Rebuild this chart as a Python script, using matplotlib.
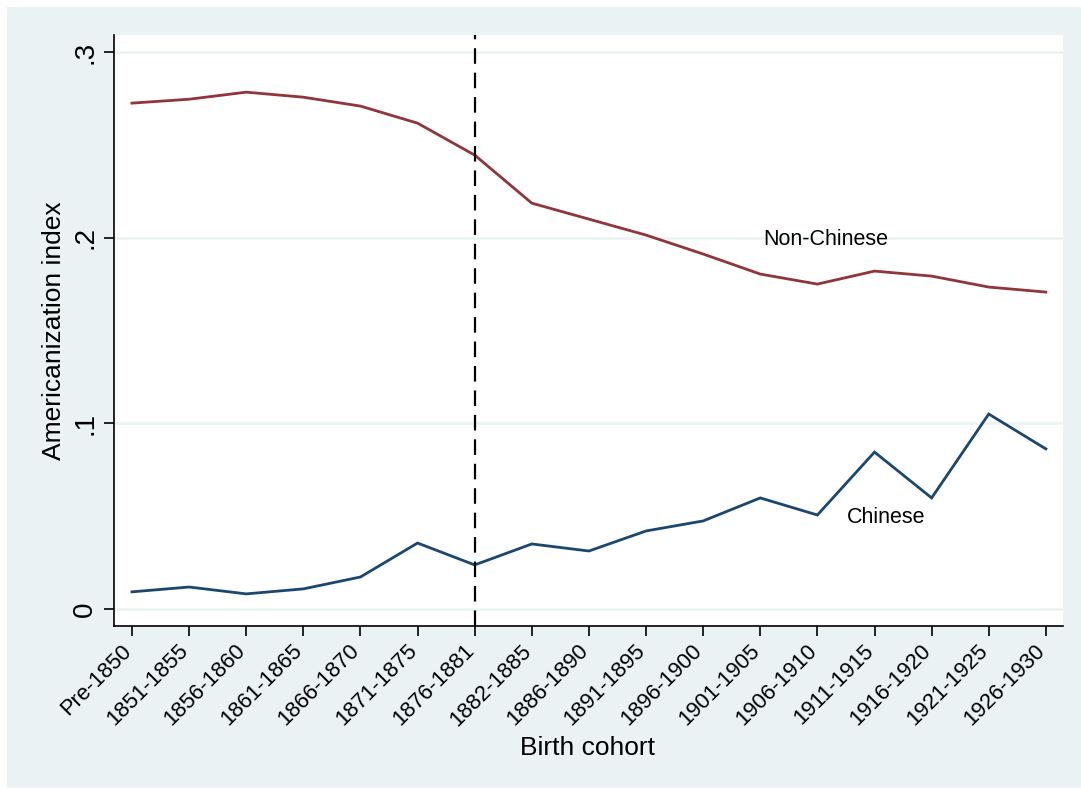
import matplotlib
matplotlib.use("Agg")
import matplotlib.pyplot as plt
from matplotlib.patches import Rectangle

cohorts = ["Pre-1850", "1851-1855", "1856-1860", "1861-1865", "1866-1870",
           "1871-1875", "1876-1881", "1882-1885", "1886-1890", "1891-1895",
           "1896-1900", "1901-1905", "1906-1910", "1911-1915", "1916-1920",
           "1921-1925", "1926-1930"]
non_chinese = [0.2725, 0.2746, 0.2784, 0.2757, 0.2709, 0.2617, 0.2445, 0.2186,
               0.2100, 0.2014, 0.1912, 0.1804, 0.1750, 0.1820, 0.1793, 0.1734,
               0.1707]
chinese = [0.0092, 0.0118, 0.0081, 0.0108, 0.0172, 0.0355, 0.0237, 0.0350,
           0.0312, 0.0420, 0.0474, 0.0598, 0.0506, 0.0845, 0.0598, 0.1050,
           0.0862]
yticks = [0, 0.1, 0.2, 0.3]
ytick_labels = ["0", ".1", ".2", ".3"]
break_cohort = "1876-1881"

plt.rcParams["font.family"] = ["Liberation Sans", "DejaVu Sans"]

W, H = 1081, 789
fig = plt.figure(figsize=(W / 100, H / 100), dpi=100, facecolor="white")
bg = "#EAF2F3"
fig.patches.append(Rectangle((7 / W, 1 / H), 1 - 7 / W, 1 - 8 / H,
                             transform=fig.transFigure, facecolor=bg,
                             edgecolor="none", zorder=-10))

ax_l, ax_r, ax_t, ax_b = 114, 1063, 35, 626
ax = fig.add_axes([ax_l / W, 1 - ax_b / H, (ax_r - ax_l) / W, (ax_b - ax_t) / H])
ax.set_facecolor("white")

x = list(range(len(cohorts)))
ax.plot(x, non_chinese, color="#90353B", lw=2.0, solid_joinstyle="miter", zorder=3)
ax.plot(x, chinese, color="#1A476F", lw=2.0, solid_joinstyle="miter", zorder=3)

bx = cohorts.index(break_cohort)
ax.axvline(bx, color="black", lw=1.6, ls=(0, (7, 4)), zorder=4)

ax.set_xlim(-0.315, len(cohorts) - 1 + 0.3)
ax.set_ylim(-0.0092, 0.3092)

ax.set_yticks(yticks)
ax.set_yticklabels(ytick_labels, rotation=90, va="center", fontsize=20)
ax.set_xticks(x)
ax.set_xticklabels(cohorts, rotation=45, ha="right", va="baseline",
                   rotation_mode="anchor", fontsize=15.8)

ax.grid(axis="y", color=bg, lw=1.8, zorder=0)
ax.set_axisbelow(True)
for s in ["top", "right"]:
    ax.spines[s].set_visible(False)
for s in ["left", "bottom"]:
    ax.spines[s].set_linewidth(1.2)
    ax.spines[s].set_color("black")
ax.tick_params(axis="both", length=7.5, width=1.2, color="black")
ax.tick_params(axis="y", pad=4)
ax.tick_params(axis="x", pad=11)

ax.text(12.14, 0.1992, "Non-Chinese", fontsize=15.5, ha="center", va="center")
ax.text(13.2, 0.0495, "Chinese", fontsize=15.5, ha="center", va="center")

ax.set_ylabel("Americanization index", fontsize=19)
ax.set_xlabel("Birth cohort", fontsize=19)
axw, axh = ax_r - ax_l, ax_b - ax_t
ax.xaxis.set_label_coords((588 - ax_l) / axw, -(748 - ax_b) / axh)
ax.xaxis.label.set_verticalalignment("center")
ax.yaxis.set_label_coords((54 - ax_l) / axw, 0.5)
ax.yaxis.label.set_verticalalignment("center")

fig.savefig("out.png", dpi=100, facecolor="white")
